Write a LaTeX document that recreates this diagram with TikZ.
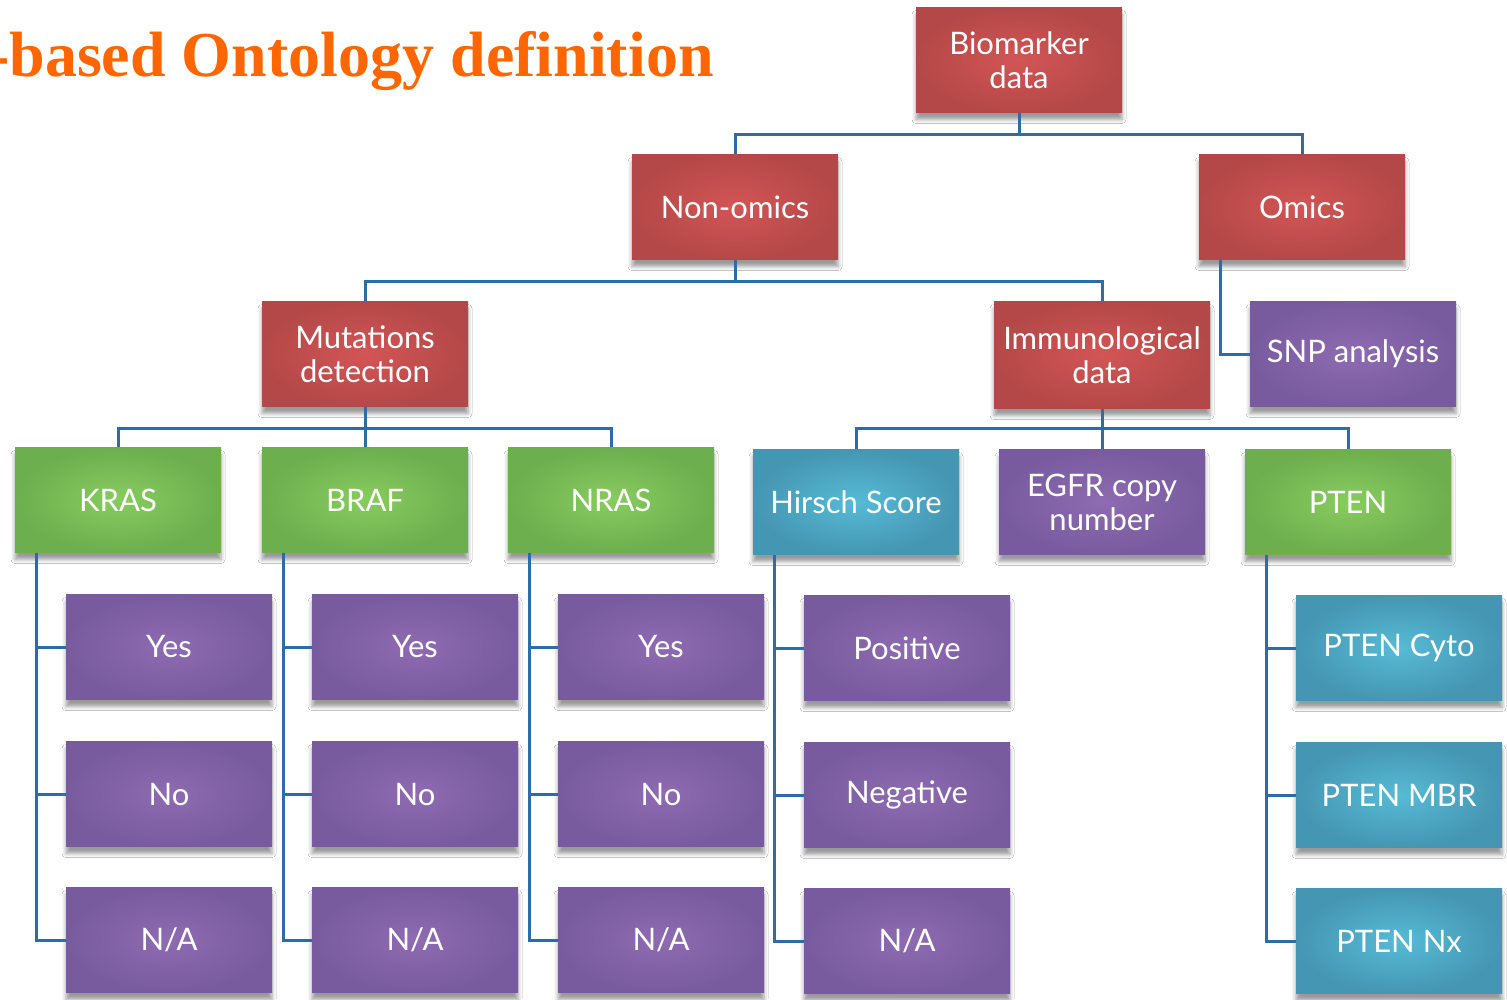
\documentclass[tikz,border=0pt]{standalone}
\usepackage{fontspec}
\setmainfont{Lato}
\newfontfamily\titlefont{Liberation Serif}
\usetikzlibrary{shadows.blur}
\definecolor{linkblue}{HTML}{2C6CA8}
\definecolor{redA}{HTML}{B44848}
\definecolor{redB}{HTML}{D35555}
\definecolor{greenA}{HTML}{6DAE4E}
\definecolor{greenB}{HTML}{88CC5F}
\definecolor{purpA}{HTML}{785B9E}
\definecolor{purpB}{HTML}{8E6BB2}
\definecolor{cyanA}{HTML}{4596B2}
\definecolor{cyanB}{HTML}{56BBD6}
\definecolor{titleorange}{HTML}{FF6600}
\tikzset{
  box/.style={minimum width=206pt, minimum height=105pt, inner sep=2pt,
    align=center, text=white, font=\fontsize{31}{34}\selectfont,
    blur shadow={shadow xshift=0pt, shadow yshift=-7pt, shadow blur radius=4pt, shadow opacity=40}},
  redbox/.style={box, inner color=redB, outer color=redA},
  greenbox/.style={box, inner color=greenB, outer color=greenA},
  purplebox/.style={box, inner color=purpB, outer color=purpA},
  cyanbox/.style={box, inner color=cyanB, outer color=cyanA},
  link/.style={draw=linkblue, line width=3pt}
}
\begin{document}
\begin{tikzpicture}[x=1pt, y=-1pt]
\useasboundingbox (0,0) rectangle (1507,999);
\fill[white] (0,0) rectangle (1507,999);

% title
\node[anchor=base west, inner sep=0pt, text=titleorange,
      font=\titlefont\bfseries\fontsize{64}{64}\selectfont] (title) at (-12,76) {-based Ontology definition};

% bus levels
\coordinate (bus1) at (0,134);
\coordinate (bus2) at (0,281);
\coordinate (bus3) at (0,428);

% top levels
\node[redbox] (bio) at (1019,60) {Biomarker\\data};
\node[redbox] (nonomics) at (735,207) {Non-omics};
\node[redbox] (omics) at (1302,207) {Omics};
\node[redbox] (mut) at (365,354) {Mutations\\detection};
\node[redbox, minimum width=216pt, minimum height=107pt] (immuno) at (1102,355) {Immunological\\data};
\node[purplebox] (snp) at (1353,354) {SNP analysis};

% gene / marker row
\node[greenbox] (kras) at (118,500) {KRAS};
\node[greenbox] (braf) at (365,500) {BRAF};
\node[greenbox] (nras) at (611,500) {NRAS};
\node[cyanbox] (hirsch) at (856,502) {Hirsch Score};
\node[purplebox] (egfr) at (1102,502) {EGFR copy\\number};
\node[greenbox] (pten) at (1348,502) {PTEN};

% leaf rows
\node[purplebox] (kyes) at (169,647) {Yes};
\node[purplebox] (kno)  at (169,794) {No};
\node[purplebox] (kna)  at (169,940) {N/A};
\node[purplebox] (byes) at (415,647) {Yes};
\node[purplebox] (bno)  at (415,794) {No};
\node[purplebox] (bna)  at (415,940) {N/A};
\node[purplebox] (nyes) at (661,647) {Yes};
\node[purplebox] (nno)  at (661,794) {No};
\node[purplebox] (nna)  at (661,940) {N/A};
\node[purplebox] (hpos) at (907,648) {Positive};
\node[purplebox] (hneg) at (907,795) {Negative};
\node[purplebox] (hna)  at (907,941) {N/A};
\node[cyanbox] (pcyto) at (1399,648) {PTEN Cyto};
\node[cyanbox] (pmbr)  at (1399,795) {PTEN MBR};
\node[cyanbox] (pnx)   at (1399,941) {PTEN Nx};

% tree connectors
\draw[link] (bio.south) -- (bio.south |- bus1);
\draw[link] (nonomics.north) |- (omics.north |- bus1) -- (omics.north);

\draw[link] (nonomics.south) -- (nonomics.south |- bus2);
\draw[link] (mut.north) |- (immuno.north |- bus2) -- (immuno.north);

\draw[link] ([xshift=22pt]omics.south west) |- (snp.west);

\draw[link] (mut.south) -- (mut.south |- bus3);
\draw[link] (kras.north) |- (nras.north |- bus3) -- (nras.north);
\draw[link] (braf.north) -- (braf.north |- bus3);

\draw[link] (immuno.south) -- (egfr.north);
\draw[link] (hirsch.north) |- (pten.north |- bus3) -- (pten.north);

\draw[link] ([xshift=22pt]kras.south west) |- (kna.west);
\draw[link] ([xshift=22pt]kras.south west |- kyes.west) -- (kyes.west);
\draw[link] ([xshift=22pt]kras.south west |- kno.west) -- (kno.west);

\draw[link] ([xshift=22pt]braf.south west) |- (bna.west);
\draw[link] ([xshift=22pt]braf.south west |- byes.west) -- (byes.west);
\draw[link] ([xshift=22pt]braf.south west |- bno.west) -- (bno.west);

\draw[link] ([xshift=22pt]nras.south west) |- (nna.west);
\draw[link] ([xshift=22pt]nras.south west |- nyes.west) -- (nyes.west);
\draw[link] ([xshift=22pt]nras.south west |- nno.west) -- (nno.west);

\draw[link] ([xshift=22pt]hirsch.south west) |- (hna.west);
\draw[link] ([xshift=22pt]hirsch.south west |- hpos.west) -- (hpos.west);
\draw[link] ([xshift=22pt]hirsch.south west |- hneg.west) -- (hneg.west);

\draw[link] ([xshift=22pt]pten.south west) |- (pnx.west);
\draw[link] ([xshift=22pt]pten.south west |- pcyto.west) -- (pcyto.west);
\draw[link] ([xshift=22pt]pten.south west |- pmbr.west) -- (pmbr.west);
\end{tikzpicture}
\end{document}
